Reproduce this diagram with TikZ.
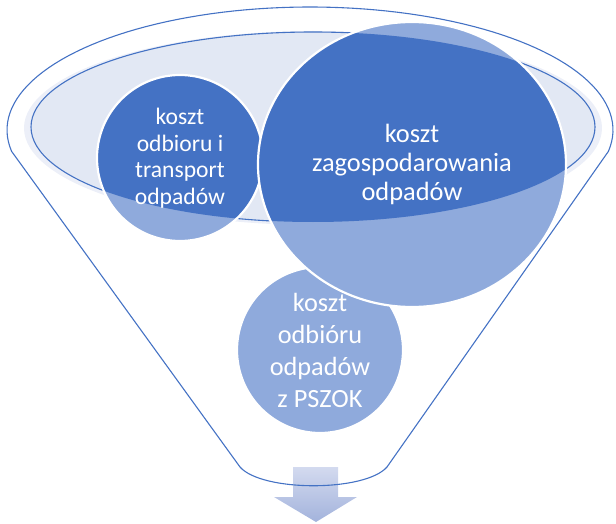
\documentclass[tikz,border=0pt]{standalone}
\usepackage{fontspec}
\setmainfont{Carlito}
\definecolor{dblue}{HTML}{4472C4}
\definecolor{lblue}{HTML}{8FAADC}
\definecolor{elfill}{HTML}{E2E8F4}
\definecolor{glow}{HTML}{ECEFF8}
\definecolor{arrowtop}{HTML}{D3DAEF}
\definecolor{arrowbot}{HTML}{A3B3DC}
\tikzset{
  outline/.style={draw=dblue, line width=1.1pt},
  rim/.style={draw=white, line width=2.2pt},
  label/.style={text=white, align=center, inner sep=0pt},
}
\begin{document}
\begin{tikzpicture}[x=1pt,y=-1pt]
\useasboundingbox (0,0) rectangle (616,524);
% arrow
\shade[top color=arrowtop, bottom color=arrowbot]
  (293,467) -- (338,467) -- (338,497) -- (357,497) -- (316,522) -- (274,497) -- (293,497) -- cycle;
% funnel outline
\draw[outline, line join=round]
  (387,467) -- plot[domain=-10:190, samples=90] ({310+303*cos(\x)}, {130-123*sin(\x)})
  -- (240,467) .. controls (262,492) and (365,492) .. (387,467) -- cycle;
% inner ellipse
\fill[glow] (313,128) ellipse [x radius=289pt, y radius=97pt];
\fill[elfill] (313,127) ellipse [x radius=282pt, y radius=95pt];
\draw[outline] (313,127) ellipse [x radius=282pt, y radius=95pt];
% bottom circle
\coordinate (cb) at (320,350);
\fill[lblue] (cb) circle [radius=83pt];
\draw[rim] (cb) circle [radius=83pt];
% small circle
\coordinate (cs) at (180,158);
\fill[lblue] (cs) circle [radius=83pt];
\begin{scope}
  \clip (313,127) ellipse [x radius=282pt, y radius=95pt];
  \fill[dblue] (cs) circle [radius=83pt];
\end{scope}
\draw[rim] (cs) circle [radius=83pt];
% big circle
\coordinate (cg) at (412,164.5);
\fill[lblue] (cg) ellipse [x radius=154pt, y radius=142.5pt];
\begin{scope}
  \clip (313,127) ellipse [x radius=282pt, y radius=95pt];
  \fill[dblue] (cg) ellipse [x radius=154pt, y radius=142.5pt];
\end{scope}
\draw[rim] (cg) ellipse [x radius=154pt, y radius=142.5pt];
% texts
\node[label, font=\fontsize{23.6}{26.5}\selectfont] (ts) at (cs) {koszt\\odbioru i\\transport\\odpadów};
\node[label, font=\fontsize{26.4}{29}\selectfont] (tg) at (cg) {koszt\\zagospodarowania\\odpadów};
\node[label, font=\fontsize{26.3}{32}\selectfont] (tb) at (cb) {koszt\\odbióru\\odpadów\\z PSZOK};
\end{tikzpicture}
\end{document}
